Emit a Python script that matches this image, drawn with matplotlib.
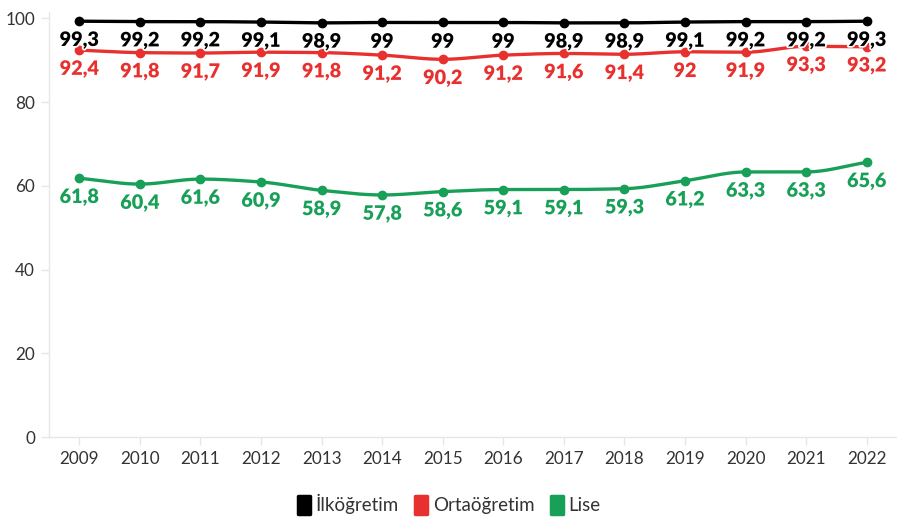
import numpy as np
import matplotlib
matplotlib.use("Agg")
import matplotlib.pyplot as plt
from matplotlib.lines import Line2D
from matplotlib.markers import MarkerStyle
from matplotlib.path import Path
import matplotlib.patheffects as pe

years = [2009, 2010, 2011, 2012, 2013, 2014, 2015, 2016, 2017, 2018, 2019, 2020, 2021, 2022]
ilkogretim = [99.3, 99.2, 99.2, 99.1, 98.9, 99, 99, 99, 98.9, 98.9, 99.1, 99.2, 99.2, 99.3]
ortaogretim = [92.4, 91.8, 91.7, 91.9, 91.8, 91.2, 90.2, 91.2, 91.6, 91.4, 92, 91.9, 93.3, 93.2]
lise = [61.8, 60.4, 61.6, 60.9, 58.9, 57.8, 58.6, 59.1, 59.1, 59.3, 61.2, 63.3, 63.3, 65.6]
series_names = ["İlköğretim", "Ortaöğretim", "Lise"]
colors = ["#000000", "#e8312f", "#18a058"]

plt.rcParams['font.family'] = ['Lato', 'DejaVu Sans']


def pchip(x, y, xs):
    x = np.asarray(x, float); y = np.asarray(y, float)
    h = np.diff(x); d = np.diff(y) / h
    n = len(x); m = np.zeros(n)
    for k in range(1, n - 1):
        if d[k - 1] * d[k] <= 0:
            m[k] = 0
        else:
            w1 = 2 * h[k] + h[k - 1]; w2 = h[k] + 2 * h[k - 1]
            m[k] = (w1 + w2) / (w1 / d[k - 1] + w2 / d[k])
    m[0] = d[0]; m[-1] = d[-1]
    out = np.empty_like(xs)
    for i, xv in enumerate(xs):
        k = min(max(np.searchsorted(x, xv) - 1, 0), n - 2)
        t = (xv - x[k]) / h[k]
        h00 = 2*t**3 - 3*t**2 + 1; h10 = t**3 - 2*t**2 + t
        h01 = -2*t**3 + 3*t**2; h11 = t**3 - t**2
        out[i] = h00*y[k] + h10*h[k]*m[k] + h01*y[k+1] + h11*h[k]*m[k+1]
    return out

fig = plt.figure(figsize=(8.97, 5.18), dpi=100)
ax = fig.add_axes([49/897, 1 - 437/518, 1 - 49/897, (437 - 12)/518])

x = np.arange(len(years))
xs = np.linspace(0, len(years) - 1, 400)
for vals, c in zip([ilkogretim, ortaogretim, lise], colors):
    ax.plot(xs, pchip(x, vals, xs), color=c, lw=2.4, solid_capstyle='round', zorder=2)
    ax.plot(x, vals, 'o', color=c, ms=6, zorder=3)
for vals, c in zip([ilkogretim, ortaogretim, lise], colors):
    for xi, v in zip(x, vals):
        lab = f"{v:g}".replace('.', ',')
        ax.annotate(lab, (xi, v), xytext=(0, -13.5), textcoords='offset points',
                    ha='center', va='center', fontsize=14.3, fontweight='heavy',
                    color=c, zorder=4,
                    path_effects=[pe.withStroke(linewidth=2.5, foreground='white')])

ax.set_xlim(-0.5, len(years) - 0.5)
ax.set_ylim(0, 101.5)
ax.set_xticks(x)
ax.set_xticklabels([str(y) for y in years])
ax.set_yticks([0, 20, 40, 60, 80, 100])
for s in ['top', 'right']:
    ax.spines[s].set_visible(False)
for s in ['left', 'bottom']:
    ax.spines[s].set_color('#e6e6e6')
    ax.spines[s].set_linewidth(1)
ax.tick_params(axis='both', colors='#e6e6e6', labelcolor='#333333', labelsize=12.3, length=6, width=1)
ax.tick_params(axis='x', pad=4)
ax.tick_params(axis='y', pad=4)

rect = Path([(-0.32, -0.5), (0.32, -0.5), (0.32, 0.5), (-0.32, 0.5), (-0.32, -0.5)],
            [Path.MOVETO, Path.LINETO, Path.LINETO, Path.LINETO, Path.CLOSEPOLY])
mstyle = MarkerStyle(rect, joinstyle='round')
handles = [Line2D([0], [0], marker=mstyle, ls='none', color=c, ms=13, mew=2.5,
                  markeredgecolor=c) for c in colors]
fig.legend(handles, series_names, loc='lower center', bbox_to_anchor=(0.5, -0.025),
           ncol=3, frameon=False, fontsize=13.5, handletextpad=0.2, columnspacing=0.8,
           labelcolor='#333333', handlelength=0.8)

fig.savefig("out.png", dpi=100)
